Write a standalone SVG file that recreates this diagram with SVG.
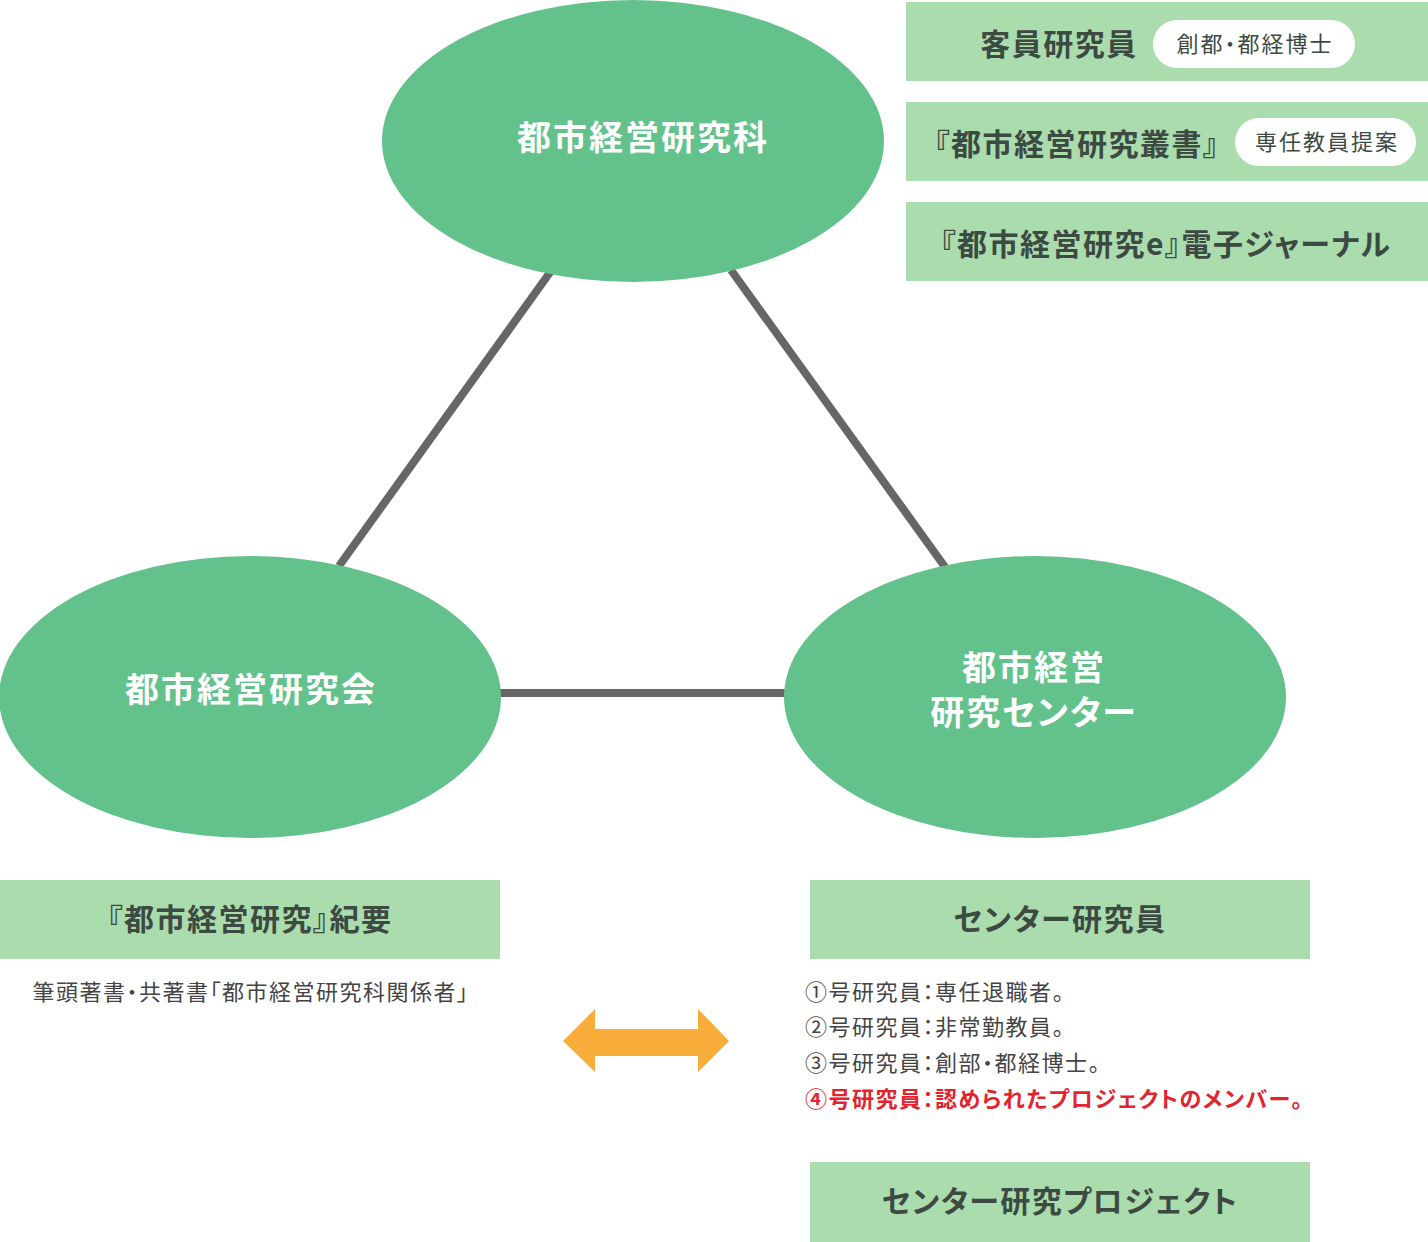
<svg xmlns="http://www.w3.org/2000/svg" width="1428" height="1242" viewBox="0 0 1428 1242">
<style>
text{font-family:"Noto Sans CJK JP","Noto Sans",sans-serif;font-feature-settings:"palt"}
.ell{fill:#63c28c}
.box{fill:#aadcae}
.pill{fill:#ffffff}
.et{fill:#ffffff;font-size:34px;font-weight:700;letter-spacing:2px;text-anchor:middle}
.bt{fill:#3d4a42;font-size:30px;font-weight:700;letter-spacing:1.5px;text-anchor:middle}
.pt{fill:#3d4a42;font-size:22px;letter-spacing:2px;text-anchor:middle}
.st{fill:#444444;font-size:22px;letter-spacing:1.5px}
.red{fill:#e3232d;font-weight:700}
.ln{stroke:#666666;stroke-width:8;fill:none}
</style>
<rect width="1428" height="1242" fill="#ffffff"/>
<g id="connectors">
<line class="ln" x1="339" y1="566" x2="551" y2="271"/>
<line class="ln" x1="731" y1="270" x2="945" y2="567"/>
<line class="ln" x1="500" y1="693" x2="786" y2="693"/>
<polygon id="arrow" fill="#f8ac3a" points="563,1041 595,1009 595,1029 698,1029 698,1009 729,1041 698,1072 698,1056 595,1056 595,1072"/>
</g>
<g id="node-kenkyuka">
<ellipse class="ell" cx="633" cy="141" rx="251" ry="141"/>
<text class="et" x="643" y="150">都市経営研究科</text>
</g>
<g id="node-kenkyukai">
<ellipse class="ell" cx="250" cy="697" rx="251" ry="141"/>
<text class="et" x="251" y="702">都市経営研究会</text>
</g>
<g id="node-center">
<ellipse class="ell" cx="1035" cy="697" rx="251" ry="141"/>
<text class="et" x="1034" y="680">都市経営</text>
<text class="et" x="1034" y="725">研究センター</text>
</g>
<g id="box-kyakuin">
<rect class="box" x="906" y="2" width="522" height="79"/>
<text class="bt" x="1059" y="55">客員研究員</text>
<rect class="pill" x="1153" y="20" width="202" height="48" rx="24"/>
<text class="pt" x="1255" y="52">創都・都経博士</text>
</g>
<g id="box-sosho">
<rect class="box" x="906" y="102" width="522" height="79"/>
<text class="bt" x="1077" y="155">『都市経営研究叢書』</text>
<rect class="pill" x="1235" y="118" width="181" height="48" rx="24"/>
<text class="pt" x="1327" y="150">専任教員提案</text>
</g>
<g id="box-ejournal">
<rect class="box" x="906" y="202" width="522" height="79"/>
<text class="bt" x="1166" y="255">『都市経営研究e』電子ジャーナル</text>
</g>
<g id="box-kiyo">
<rect class="box" x="0" y="880" width="500" height="79"/>
<text class="bt" x="250" y="930">『都市経営研究』紀要</text>
<text class="st" x="251" y="1000" text-anchor="middle">筆頭著書・共著書「都市経営研究科関係者」</text>
</g>
<g id="box-center-kenkyuin">
<rect class="box" x="810" y="880" width="500" height="79"/>
<text class="bt" x="1060" y="930">センター研究員</text>
<text class="st" x="805" y="1000">①号研究員：専任退職者。</text>
<text class="st" x="805" y="1035">②号研究員：非常勤教員。</text>
<text class="st" x="805" y="1071">③号研究員：創部・都経博士。</text>
<text class="st red" x="805" y="1107">④号研究員：認められたプロジェクトのメンバー。</text>
</g>
<g id="box-project">
<rect class="box" x="810" y="1162" width="500" height="80"/>
<text class="bt" x="1060" y="1212">センター研究プロジェクト</text>
</g>
</svg>
